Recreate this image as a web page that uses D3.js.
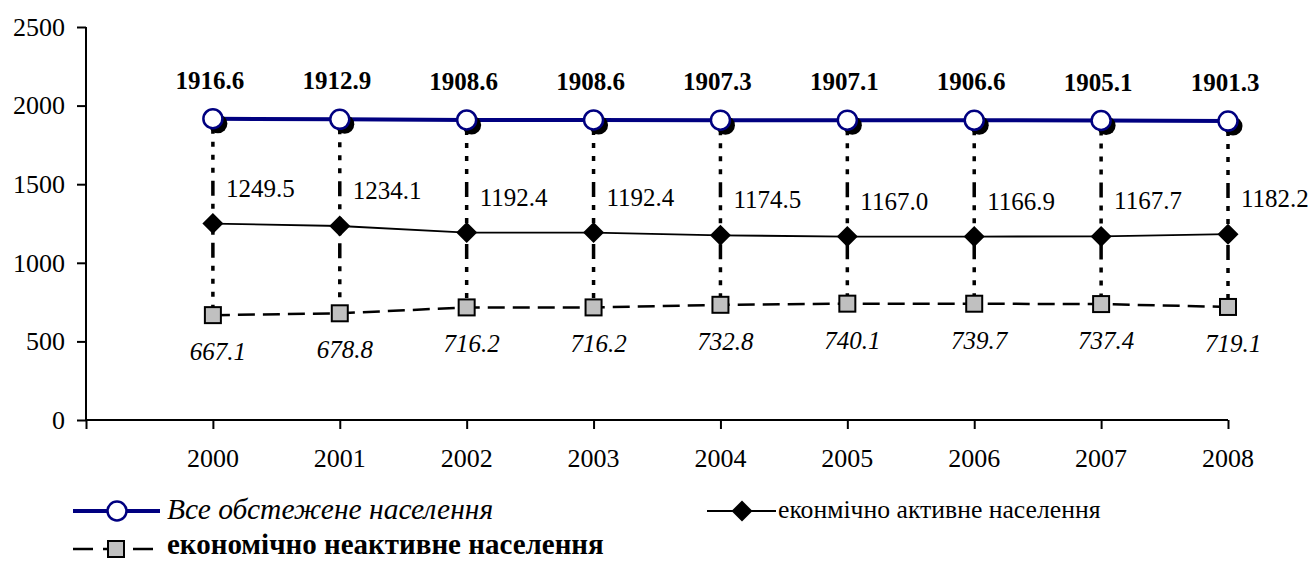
<!DOCTYPE html>
<html><head><meta charset="utf-8">
<script src="https://cdn.jsdelivr.net/npm/d3@7"></script>
<style>body{margin:0;background:#fff}svg{display:block}</style>
</head><body>
<svg id="c" width="1308" height="561"></svg>
<script>
const years = ["2000","2001","2002","2003","2004","2005","2006","2007","2008"];
const allPop = [1916.6,1912.9,1908.6,1908.6,1907.3,1907.1,1906.6,1905.1,1901.3];
const activePop = [1249.5,1234.1,1192.4,1192.4,1174.5,1167.0,1166.9,1167.7,1182.2];
const inactivePop = [667.1,678.8,716.2,716.2,732.8,740.1,739.7,737.4,719.1];
const yTicks = [0,500,1000,1500,2000,2500];
const legendNames = ["Все обстежене населення","еконмічно активне населення","економічно неактивне населення"];

(function(){
const FF = "'Liberation Serif', 'Times New Roman', Times, 'DejaVu Serif', serif";
const svg = d3.select("#c").style("font-family", FF);
const mLeft = 86, mRight = 1228, mTop = 27, mBottom = 420;
const y = d3.scaleLinear().domain([0,2500]).range([mBottom, mTop]);
const xIdx = d3.scaleLinear().domain([0, years.length]).range([mLeft, mRight]);
const x = (i) => xIdx(i + 1);

// Y axis
const yAx = svg.append("g").attr("transform",`translate(${mLeft},0)`)
  .call(d3.axisLeft(y).tickValues(yTicks).tickSize(9).tickPadding(12).tickFormat(d3.format("d")));
yAx.attr("font-family",null).attr("font-size",null);
yAx.select(".domain").attr("stroke","#000").attr("stroke-width",2).attr("d",`M0,${mTop}V${mBottom}`);
yAx.selectAll(".tick line").attr("stroke","#000").attr("stroke-width",2);
yAx.selectAll(".tick text").style("font-size","26px").style("font-family",FF).attr("fill","#000");

// X axis
const xTickVals = d3.range(0, years.length + 1);
const xAx = svg.append("g").attr("transform",`translate(0,${mBottom})`)
  .call(d3.axisBottom(xIdx).tickValues(xTickVals).tickSize(9).tickFormat(""));
xAx.select(".domain").attr("stroke","#000").attr("stroke-width",2).attr("d",`M${mLeft},0H${mRight}`);
xAx.selectAll(".tick line").attr("stroke","#000").attr("stroke-width",2);
svg.append("g").selectAll("text").data(years).join("text")
  .attr("x",(d,i)=>x(i)).attr("y",mBottom+47).attr("text-anchor","middle")
  .style("font-family",FF).style("font-size","26px").text(d=>d);

// drop lines (high-low)
svg.append("g").selectAll("line").data(years).join("line")
  .attr("x1",(d,i)=>x(i)).attr("x2",(d,i)=>x(i))
  .attr("y1",(d,i)=>y(allPop[i])).attr("y2",(d,i)=>y(inactivePop[i]))
  .attr("stroke","#000").attr("stroke-width",3.5).attr("stroke-dasharray","15,8,5,8,5,8,5,8");

const line = d3.line().x((d,i)=>x(i)).y(d=>y(d));
svg.append("path").datum(inactivePop).attr("d",line).attr("fill","none")
  .attr("stroke","#000").attr("stroke-width",2.5).attr("stroke-dasharray","17,8");
svg.append("path").datum(activePop).attr("d",line).attr("fill","none")
  .attr("stroke","#000").attr("stroke-width",1.8);
svg.append("path").datum(allPop).attr("d",line).attr("fill","none")
  .attr("stroke","#000080").attr("stroke-width",4);

svg.append("g").selectAll("circle").data(allPop).join("circle")
  .attr("cx",(d,i)=>x(i)+5).attr("cy",d=>y(d)+5).attr("r",9.5).attr("fill","#000");
svg.append("g").selectAll("circle").data(allPop).join("circle")
  .attr("cx",(d,i)=>x(i)).attr("cy",d=>y(d)).attr("r",9.5)
  .attr("fill","#fff").attr("stroke","#000080").attr("stroke-width",2.5);

const diamond = (cx,cy,r)=>`M${cx},${cy-r}L${cx+r},${cy}L${cx},${cy+r}L${cx-r},${cy}Z`;
svg.append("g").selectAll("path").data(activePop).join("path")
  .attr("d",(d,i)=>diamond(x(i),y(d),10.5)).attr("fill","#000");

svg.append("g").selectAll("rect").data(inactivePop).join("rect")
  .attr("x",(d,i)=>x(i)-8).attr("y",d=>y(d)-8).attr("width",16).attr("height",16)
  .attr("fill","#c0c0c0").attr("stroke","#000").attr("stroke-width",2);

// data labels
svg.append("g").selectAll("text").data(allPop).join("text")
  .attr("x",(d,i)=>x(i)-3).attr("y",d=>y(d)-30).attr("text-anchor","middle")
  .style("font-family",FF).style("font-size","25px").style("font-weight","bold").text(d=>d.toFixed(1));
svg.append("g").selectAll("text").data(activePop).join("text")
  .attr("x",(d,i)=>x(i)+13).attr("y",d=>y(d)-27).attr("text-anchor","start")
  .style("font-family",FF).style("font-size","25px").text(d=>d.toFixed(1));
svg.append("g").selectAll("text").data(inactivePop).join("text")
  .attr("x",(d,i)=>x(i)+5).attr("y",d=>y(d)+45).attr("text-anchor","middle")
  .style("font-family",FF).style("font-size","25px").style("font-style","italic").text(d=>d.toFixed(1));

// legend
const lg = svg.append("g");
lg.append("line").attr("x1",73).attr("x2",160).attr("y1",511).attr("y2",511).attr("stroke","#000080").attr("stroke-width",4);
lg.append("circle").attr("cx",117).attr("cy",511).attr("r",9.5).attr("fill","#fff").attr("stroke","#000080").attr("stroke-width",2.5);
lg.append("text").attr("x",167).attr("y",519).style("font-family",FF).style("font-size","29.5px").style("font-style","italic").text(legendNames[0]);
lg.append("line").attr("x1",707).attr("x2",776).attr("y1",511).attr("y2",511).attr("stroke","#000").attr("stroke-width",1.8);
lg.append("path").attr("d",diamond(742,511,10.5)).attr("fill","#000");
lg.append("text").attr("x",778).attr("y",518).style("font-family",FF).style("font-size","25.7px").text(legendNames[1]);
lg.append("line").attr("x1",73).attr("x2",160).attr("y1",549).attr("y2",549).attr("stroke","#000").attr("stroke-width",2.5).attr("stroke-dasharray","20,10");
lg.append("rect").attr("x",108).attr("y",541).attr("width",16).attr("height",16).attr("fill","#c0c0c0").attr("stroke","#000").attr("stroke-width",2);
lg.append("text").attr("x",167).attr("y",554).style("font-family",FF).style("font-size","29px").style("font-weight","bold").text(legendNames[2]);
})();
</script>
</body></html>
